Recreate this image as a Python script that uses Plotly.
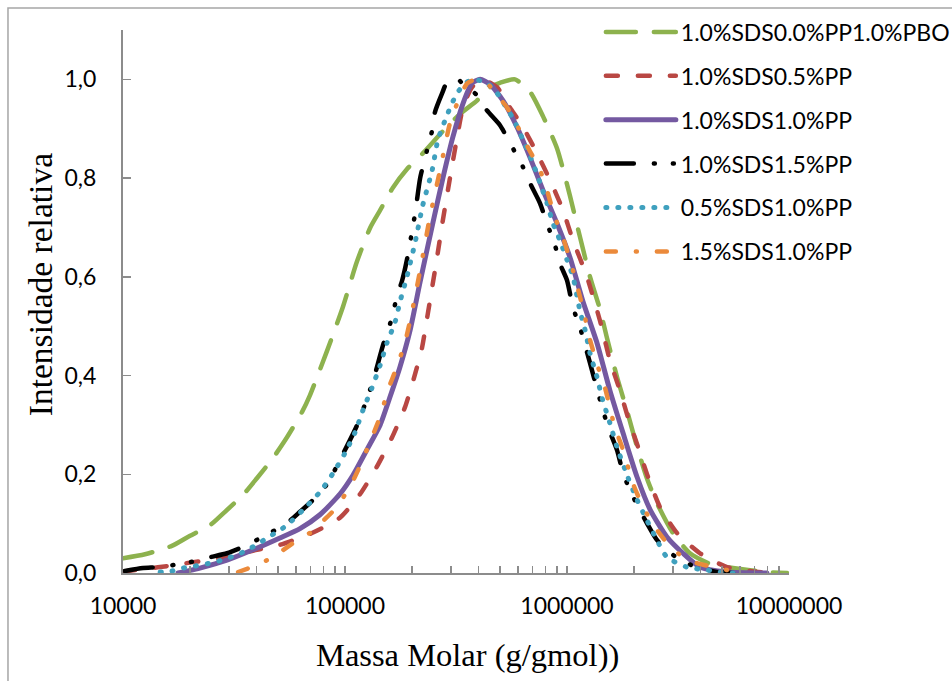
import plotly.graph_objects as go

# ---------------- data ----------------
names = ["1.0%SDS0.0%PP1.0%PBO", "1.0%SDS0.5%PP", "1.0%SDS1.0%PP",
         "1.0%SDS1.5%PP", "0.5%SDS1.0%PP", "1.5%SDS1.0%PP"]

green_x = [10000, 12560, 16600, 19600, 24700, 28800, 34700, 40100, 47400, 54800,
           64000, 69500, 83000, 98000, 113000, 130000, 144000, 164000, 190000, 224000,
           276000, 330000, 393000, 450000, 499000, 583000, 681000, 780000, 902000, 1030000,
           1145000, 1270000, 1410000, 1510000, 1680000, 1860000, 2070000, 2290000, 2540000,
           3000000, 3580000, 4550000, 5600000, 7960000, 9800000]
green_y = [0.03, 0.038, 0.055, 0.073, 0.097, 0.124, 0.158, 0.192, 0.233, 0.275,
           0.326, 0.36, 0.45, 0.54, 0.63, 0.70, 0.735, 0.78, 0.818, 0.85,
           0.895, 0.93, 0.957, 0.984, 0.993, 1.0, 0.975, 0.925, 0.86, 0.765,
           0.68, 0.60, 0.533, 0.478, 0.397, 0.33, 0.255, 0.192, 0.142,
           0.081, 0.04, 0.016, 0.01, 0.002, 0.0]

red_x = [10000, 14700, 20700, 29400, 40100, 50900, 71800, 94900, 117000, 139000,
         163000, 186000, 202000, 222000, 234000, 260000, 276000, 297000, 320000, 340000,
         373000, 414000, 484000, 553000, 634000, 733000, 838000, 959000, 1064000, 1230000,
         1410000, 1560000, 1730000, 1880000, 2090000, 2320000, 2620000, 3130000, 3970000,
         5260000, 7960000]
red_y = [0.003, 0.012, 0.022, 0.032, 0.047, 0.057, 0.082, 0.112, 0.16, 0.215,
         0.275, 0.335, 0.387, 0.455, 0.515, 0.64, 0.715, 0.80, 0.883, 0.943,
         0.984, 1.0, 0.984, 0.943, 0.903, 0.85, 0.796, 0.735, 0.674, 0.6,
         0.51, 0.431, 0.37, 0.316, 0.255, 0.194, 0.134, 0.081, 0.04,
         0.012, 0.0]

purple_x = [17700, 22200, 29400, 38500, 50900, 62700, 77100, 94900, 108600, 125600,
            144000, 159000, 177000, 196000, 218000, 249000, 276000, 306000, 340000, 373000,
            406000, 450000, 515000, 596000, 681000, 780000, 902000, 1030000, 1180000, 1365000,
            1560000, 1790000, 2070000, 2370000, 2820000, 3330000, 3970000, 5260000, 7960000]
purple_y = [0.0, 0.01, 0.026, 0.047, 0.071, 0.09, 0.118, 0.16, 0.198, 0.25,
            0.30, 0.355, 0.418, 0.49, 0.59, 0.71, 0.8, 0.883, 0.951, 0.992,
            1.0, 0.99, 0.957, 0.903, 0.842, 0.775, 0.708, 0.64, 0.55, 0.466,
            0.37, 0.283, 0.194, 0.128, 0.073, 0.04, 0.012, 0.002, 0.0]

black_x = [10200, 12300, 14700, 20000, 24700, 29400, 34700, 45900, 54800, 62700,
           71800, 83000, 94900, 113000, 125600, 134000, 148000, 163000, 171000, 181000,
           190000, 207000, 218000, 234000, 247000, 254000, 274000, 291000, 323000, 340000,
           393000, 436000, 499000, 571000, 634000, 681000, 756000, 813000, 883000, 929000,
           1000000, 1064000, 1145000, 1270000, 1410000, 1530000, 1680000, 1790000, 1920000,
           2090000, 2290000, 2540000, 2820000, 3230000, 3850000, 4740000, 5600000]
black_y = [0.004, 0.01, 0.012, 0.022, 0.032, 0.04, 0.053, 0.081, 0.101, 0.124,
           0.148, 0.18, 0.229, 0.298, 0.353, 0.39, 0.46, 0.518, 0.559, 0.593,
           0.634, 0.729, 0.80, 0.856, 0.897, 0.933, 0.972, 0.998, 1.0, 0.99,
           0.968, 0.937, 0.907, 0.86, 0.822, 0.79, 0.749, 0.708, 0.664, 0.627,
           0.593, 0.538, 0.497, 0.425, 0.35, 0.296, 0.249, 0.202, 0.168,
           0.134, 0.101, 0.067, 0.047, 0.026, 0.012, 0.002, 0.0]

blue_x = [14700, 16600, 18600, 21100, 23400, 26000, 29400, 32600, 36200, 40100,
          44500, 49400, 54800, 64700, 77100, 88300, 100000, 111000, 120500, 132000,
          144000, 154500, 168000, 177000, 190000, 207000, 224000, 247000, 262000, 288000,
          303000, 320000, 347000, 377000, 427000, 474000, 509000, 571000, 634000, 703000,
          756000, 813000, 865000, 929000, 1000000, 1064000, 1145000, 1205000, 1270000, 1365000,
          1440000, 1560000, 1680000, 1880000, 2070000, 2290000, 2540000, 2820000, 3470000,
          4270000, 4890000, 5600000]
blue_y = [0.002, 0.004, 0.01, 0.014, 0.018, 0.022, 0.03, 0.036, 0.047, 0.057,
          0.071, 0.083, 0.097, 0.128, 0.164, 0.202, 0.243, 0.285, 0.33, 0.374,
          0.421, 0.466, 0.508, 0.55, 0.60, 0.67, 0.745, 0.816, 0.877, 0.927,
          0.951, 0.972, 0.992, 1.0, 0.994, 0.978, 0.957, 0.921, 0.877, 0.83,
          0.79, 0.749, 0.708, 0.674, 0.634, 0.60, 0.53, 0.493, 0.445, 0.397,
          0.354, 0.304, 0.255, 0.194, 0.148, 0.107, 0.067, 0.032, 0.012,
          0.006, 0.002, 0.0]

orange_x = [33000, 40100, 44500, 52000, 62700, 71800, 78700, 92000, 107600, 119000,
            132000, 144000, 156000, 171000, 186000, 198000, 218000, 241000, 268000, 297000,
            320000, 355000, 393000, 436000, 484000, 537000, 602000, 667000, 756000, 813000,
            883000, 959000, 1064000, 1145000, 1205000, 1245000, 1380000, 1480000, 1640000,
            1790000, 1980000, 2200000, 2490000, 2820000, 3330000, 3850000, 4550000, 5260000,
            6010000]
orange_y = [0.002, 0.016, 0.026, 0.045, 0.07, 0.085, 0.103, 0.134, 0.183, 0.225,
            0.274, 0.317, 0.37, 0.417, 0.466, 0.518, 0.613, 0.72, 0.816, 0.911,
            0.951, 0.992, 1.0, 0.992, 0.968, 0.943, 0.903, 0.862, 0.816, 0.775,
            0.72, 0.68, 0.613, 0.559, 0.518, 0.486, 0.417, 0.377, 0.296,
            0.249, 0.182, 0.134, 0.093, 0.061, 0.032, 0.02, 0.012, 0.006,
            0.0]

x_tickvals = [1e4, 1e5, 1e6, 1e7]
x_ticktext = ["10000", "100000", "1000000", "10000000"]
y_tickvals = [0.0, 0.2, 0.4, 0.6, 0.8, 1.0]
y_ticktext = ["0,0", "0,2", "0,4", "0,6", "0,8", "1,0"]

x_title = "Massa Molar (g/gmol))"
y_title = "Intensidade relativa"

# ---------------- styles ----------------
series = [
    (green_x, green_y, "#8DB24E", 4.5, "30px,18px"),
    (red_x, red_y, "#B94743", 4.5, "12px,20px"),
    (purple_x, purple_y, "#7459A1", 5, "solid"),
    (black_x, black_y, "#000000", 4.5, "28px,20px,1px,18px,1px,20px"),
    (blue_x, blue_y, "#3FA0BE", 5, "1px,11px"),
    (orange_x, orange_y, "#EB8A3B", 4.5, "10px,20px,1px,20px"),
]

fig = go.Figure()
for (xs, ys, col, w, dash), nm in zip(series, names):
    fig.add_trace(go.Scatter(
        x=xs, y=ys, mode="lines", name=nm, legendgroup=nm,
        line=dict(color=col, width=w, dash=dash, shape="spline", smoothing=0.6),
        hoverinfo="skip",
    ))

axis_col = "#8C8C8C"
tick_font = dict(family="Lato, Open Sans, sans-serif", size=23, color="#000000")
serif = "Liberation Serif, Times New Roman, serif"

minor_vals = [m * 10 ** e for e in range(4, 7) for m in range(2, 10)]

fig.update_layout(
    width=952, height=681, autosize=False,
    margin=dict(l=123, r=163, t=30, b=108, autoexpand=False),
    paper_bgcolor="white", plot_bgcolor="white",
    showlegend=True,
    legend=dict(
        x=0.7175, y=1.036, xanchor="left", yanchor="top",
        font=dict(family="Lato, Open Sans, sans-serif", size=23, color="#000000"),
        bgcolor="rgba(0,0,0,0)", itemwidth=70, tracegroupgap=11,
        traceorder="grouped",
    ),
    xaxis=dict(
        type="log", range=[4, 7], automargin=False,
        showline=True, linecolor=axis_col, linewidth=2,
        ticks="inside", ticklen=7, tickwidth=1.5, tickcolor=axis_col,
        tickmode="array", tickvals=x_tickvals, ticktext=x_ticktext,
        tickfont=tick_font, ticklabelstandoff=11,
        minor=dict(ticks="inside", ticklen=7, tickwidth=1.5, tickcolor=axis_col,
                   tickmode="array", tickvals=minor_vals, showgrid=False),
        showgrid=False, zeroline=False,
    ),
    yaxis=dict(
        range=[0, 1.1], automargin=False,
        showline=True, linecolor=axis_col, linewidth=2,
        ticks="inside", ticklen=8, tickwidth=1.5, tickcolor=axis_col,
        tickmode="array", tickvals=y_tickvals, ticktext=y_ticktext,
        tickfont=tick_font, ticklabelstandoff=20,
        showgrid=False, zeroline=False,
    ),
    annotations=[
        dict(text=x_title, xref="paper", yref="paper", x=0.518, y=-0.151,
             xanchor="center", yanchor="middle", showarrow=False,
             font=dict(family=serif, size=32.5, color="#000000")),
        dict(text=y_title, xref="paper", yref="paper", x=-0.1246, y=0.530,
             xanchor="center", yanchor="middle", showarrow=False, textangle=-90,
             font=dict(family=serif, size=33.5, color="#000000")),
    ],
    shapes=[
        dict(type="rect", xref="paper", yref="paper",
             x0=-0.1727, y0=-0.3, x1=1.30, y1=1.0405,
             line=dict(color="#A6A6A6", width=1.5), layer="below"),
    ],
)

post = """
document.body.style.margin = '0';
document.body.style.padding = '0';
var gd = document.getElementById('{plot_id}');
gd.querySelectorAll('path.js-line').forEach(function(p){
  p.style.strokeLinecap = 'round';
  p.style.strokeLinejoin = 'round';
});
"""

fig.write_html("out.html", post_script=post,
               config={"displayModeBar": False, "staticPlot": True})
